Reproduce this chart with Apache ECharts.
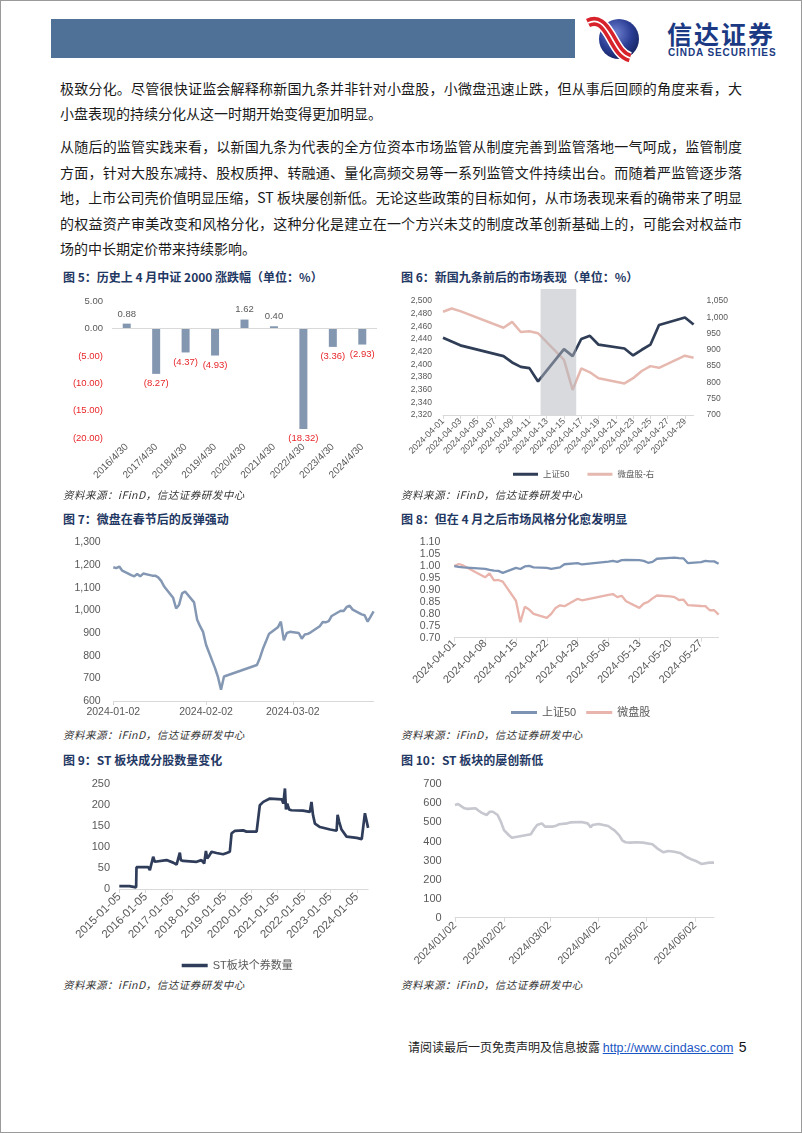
<!DOCTYPE html>
<html><head><meta charset="utf-8">
<script src="https://cdn.jsdelivr.net/npm/echarts@6/dist/echarts.min.js"></script>
<style>
body{margin:0;width:802px;height:1133px;position:relative;background:#fff;overflow:hidden;font-family:"Noto Sans CJK SC",sans-serif;}
.frame{position:absolute;left:0;top:0;width:800px;height:1131px;border:1px solid #9a9a9a;}
.hdr{position:absolute;left:51px;top:19px;width:524px;height:39px;background:#4f7097;}
.p{position:absolute;left:60px;width:682px;font-size:14px;line-height:20px;color:#1a1a1a;}
.j{text-align:justify;text-align-last:justify;}
.t{position:absolute;font-size:12px;font-weight:bold;color:#1f3864;line-height:14px;white-space:nowrap;}
.s{position:absolute;font-size:10.5px;font-style:italic;color:#333;letter-spacing:0.5px;line-height:12px;white-space:nowrap;}
.c{position:absolute;}
</style></head>
<body>
<div class="frame"></div>
<div class="hdr"></div>
<svg style="position:absolute;left:584px;top:15px" width="60" height="48" viewBox="0 0 60 48">
<defs><radialGradient id="g" cx="0.4" cy="0.35" r="0.7"><stop offset="0" stop-color="#7083d2"/><stop offset="0.6" stop-color="#2a3d93"/><stop offset="1" stop-color="#16235f"/></radialGradient></defs>
<circle cx="35" cy="24" r="20" fill="url(#g)"/>
<path d="M4,8 C14,3 20,10 26,20 S36,40 46,43" stroke="#fff" stroke-width="12" fill="none"/>
<path d="M4,8 C14,3 20,10 26,20 S36,40 46,43" stroke="#d8222b" stroke-width="9" fill="none"/>
<path d="M4,8 C14,3 20,10 26,20 S36,40 46,43" stroke="#fff" stroke-width="1.6" fill="none"/>
</svg>
<div style="position:absolute;left:667px;top:20px;font-size:25px;line-height:26px;font-weight:bold;color:#1b3a83;letter-spacing:2px;">信达证券</div>
<div style="position:absolute;left:668px;top:47px;font-size:10px;line-height:11px;font-weight:bold;color:#1b3a83;letter-spacing:0.9px;font-family:Arial,'Liberation Sans',sans-serif;">CINDA SECURITIES</div>

<div class="p j" style="top:78px">极致分化。尽管很快证监会解释称新国九条并非针对小盘股，小微盘迅速止跌，但从事后回顾的角度来看，大</div>
<div class="p" style="top:103px">小盘表现的持续分化从这一时期开始变得更加明显。</div>
<div class="p j" style="top:136px">从随后的监管实践来看，以新国九条为代表的全方位资本市场监管从制度完善到监管落地一气呵成，监管制度</div>
<div class="p j" style="top:161.5px">方面，针对大股东减持、股权质押、转融通、量化高频交易等一系列监管文件持续出台。而随着严监管逐步落</div>
<div class="p j" style="top:187px">地，上市公司壳价值明显压缩，ST 板块屡创新低。无论这些政策的目标如何，从市场表现来看的确带来了明显</div>
<div class="p j" style="top:212.5px">的权益资产审美改变和风格分化，这种分化是建立在一个方兴未艾的制度改革创新基础上的，可能会对权益市</div>
<div class="p" style="top:238px">场的中长期定价带来持续影响。</div>

<div class="t" style="left:63px;top:270px">图 5：历史上 4 月中证 2000 涨跌幅（单位：%）</div>
<div class="t" style="left:401px;top:270px">图 6：新国九条前后的市场表现（单位：%）</div>
<div class="t" style="left:63px;top:512px">图 7：微盘在春节后的反弹强动</div>
<div class="t" style="left:401px;top:512px">图 8：但在 4 月之后市场风格分化愈发明显</div>
<div class="t" style="left:63px;top:753px">图 9：ST 板块成分股数量变化</div>
<div class="t" style="left:401px;top:753px">图 10：ST 板块的屡创新低</div>

<div class="c" id="c5" style="left:60px;top:285px;width:330px;height:205px"></div>
<div class="c" id="c6" style="left:395px;top:285px;width:345px;height:205px"></div>
<div class="c" id="c7" style="left:60px;top:525px;width:330px;height:200px"></div>
<div class="c" id="c8" style="left:395px;top:525px;width:345px;height:200px"></div>
<div class="c" id="c9" style="left:60px;top:765px;width:330px;height:212px"></div>
<div class="c" id="c10" style="left:395px;top:765px;width:345px;height:212px"></div>

<div class="s" style="left:63px;top:489px">资料来源：iFinD，信达证券研发中心</div>
<div class="s" style="left:401px;top:489px">资料来源：iFinD，信达证券研发中心</div>
<div class="s" style="left:63px;top:729px">资料来源：iFinD，信达证券研发中心</div>
<div class="s" style="left:401px;top:729px">资料来源：iFinD，信达证券研发中心</div>
<div class="s" style="left:63px;top:979px">资料来源：iFinD，信达证券研发中心</div>
<div class="s" style="left:401px;top:979px">资料来源：iFinD，信达证券研发中心</div>

<div style="position:absolute;left:408px;top:1039px;font-size:12px;line-height:16px;color:#222;white-space:nowrap;">请阅读最后一页免责声明及信息披露 <span style="font-family:Arial,'Liberation Sans',sans-serif;font-size:12.5px;color:#1a56c4;text-decoration:underline;">http://www.cindasc.com</span>&nbsp; <span style="font-family:Arial,'Liberation Sans',sans-serif;font-size:14px;color:#111;">5</span></div>

<script>
// ---------- DATA ----------
const c5Cats=['2016/4/30','2017/4/30','2018/4/30','2019/4/30','2020/4/30','2021/4/30','2022/4/30','2023/4/30','2024/4/30'];
const c5Vals=[0.88,-8.27,-4.37,-4.93,1.62,0.40,-18.32,-3.36,-2.93];

const c6Dates=['2024-04-01','2024-04-02','2024-04-03','2024-04-08','2024-04-09','2024-04-10','2024-04-11','2024-04-12','2024-04-15','2024-04-16','2024-04-17','2024-04-18','2024-04-19','2024-04-22','2024-04-23','2024-04-24','2024-04-25','2024-04-26','2024-04-29','2024-04-30'];
const c6SZ50=[2442,2436,2430,2413,2403,2396,2394,2373,2424,2413,2440,2445,2431,2425,2414,2423,2431,2462,2474,2463];
const c6Micro=[1017,1027,1019,968,986,955,957,951,869,777,843,831,813,797,813,835,850,845,882,876];
const c6Ticks=['2024-04-01','2024-04-03','2024-04-05','2024-04-07','2024-04-09','2024-04-11','2024-04-13','2024-04-15','2024-04-17','2024-04-19','2024-04-21','2024-04-23','2024-04-25','2024-04-27','2024-04-29'];
const c6Band=['2024-04-12T07:00:00Z','2024-04-16T10:00:00Z'];

const c7Dates=['2024-01-02','2024-01-03','2024-01-04','2024-01-05','2024-01-08','2024-01-09','2024-01-10','2024-01-11','2024-01-12','2024-01-15','2024-01-16','2024-01-17','2024-01-18','2024-01-19','2024-01-22','2024-01-23','2024-01-24','2024-01-25','2024-01-26','2024-01-29','2024-01-30','2024-01-31','2024-02-01','2024-02-02','2024-02-05','2024-02-06','2024-02-07','2024-02-08','2024-02-19','2024-02-20','2024-02-21','2024-02-22','2024-02-23','2024-02-26','2024-02-27','2024-02-28','2024-02-29','2024-03-01','2024-03-04','2024-03-05','2024-03-06','2024-03-07','2024-03-08','2024-03-11','2024-03-12','2024-03-13','2024-03-14','2024-03-15','2024-03-18','2024-03-19','2024-03-20','2024-03-21','2024-03-22','2024-03-25','2024-03-26','2024-03-27','2024-03-28','2024-03-29'];
const c7Vals=[1190,1186,1193,1175,1155,1150,1160,1150,1162,1153,1153,1145,1130,1105,1055,1008,1025,1075,1083,1035,960,930,905,848,745,705,650,708,759,790,830,862,895,925,950,868,900,905,900,875,893,896,903,930,948,947,952,975,998,997,1015,1020,1003,982,978,950,972,995];
const c7Ticks=['2024-01-02','2024-02-02','2024-03-02'];

const c8Dates=['2024-04-01','2024-04-02','2024-04-03','2024-04-08','2024-04-09','2024-04-10','2024-04-11','2024-04-12','2024-04-15','2024-04-16','2024-04-17','2024-04-18','2024-04-19','2024-04-22','2024-04-23','2024-04-24','2024-04-25','2024-04-26','2024-04-29','2024-04-30','2024-05-06','2024-05-07','2024-05-08','2024-05-09','2024-05-10','2024-05-13','2024-05-14','2024-05-15','2024-05-16','2024-05-17','2024-05-20','2024-05-21','2024-05-22','2024-05-23','2024-05-24','2024-05-27','2024-05-28','2024-05-29','2024-05-30','2024-05-31'];
const c8SZ50=[1.000,0.997,0.995,0.989,0.984,0.981,0.980,0.972,0.993,0.988,0.999,1.001,0.995,0.993,0.989,0.992,0.995,1.008,1.013,1.007,1.019,1.022,1.018,1.025,1.026,1.025,1.022,1.014,1.018,1.031,1.035,1.036,1.034,1.033,1.013,1.017,1.022,1.020,1.020,1.010];
const c8Micro=[1.000,1.009,1.003,0.953,0.970,0.940,0.942,0.935,0.855,0.765,0.830,0.818,0.800,0.783,0.800,0.825,0.836,0.832,0.863,0.857,0.880,0.883,0.870,0.876,0.853,0.825,0.843,0.850,0.865,0.877,0.873,0.870,0.858,0.860,0.837,0.833,0.832,0.815,0.815,0.797];
const c8Ticks=['2024-04-01','2024-04-08','2024-04-15','2024-04-22','2024-04-29','2024-05-06','2024-05-13','2024-05-20','2024-05-27'];

const c9Dates=['2015-01-05','2015-05-25','2015-06-20','2015-08-26','2015-08-31','2016-02-10','2016-03-03','2016-03-28','2016-04-18','2016-05-10','2016-06-05','2016-10-20','2017-01-20','2017-03-08','2017-03-30','2017-04-22','2017-05-06','2017-06-08','2017-12-10','2018-02-15','2018-03-25','2018-04-18','2018-05-06','2018-06-01','2018-07-05','2018-09-12','2018-12-12','2019-01-30','2019-02-20','2019-03-15','2019-04-08','2019-05-25','2019-09-15','2019-11-01','2020-03-20','2020-04-10','2020-05-03','2020-06-20','2020-09-20','2021-03-03','2021-03-25','2021-04-16','2021-04-30','2021-05-18','2021-06-12','2021-07-15','2021-12-22','2022-03-27','2022-04-18','2022-05-10','2022-06-05','2022-08-14','2023-01-01','2023-04-01','2023-04-15','2023-05-06','2023-06-08','2023-08-17','2024-01-05','2024-03-14','2024-04-05','2024-04-27','2024-05-20','2024-06-10'];
const c9Vals=[7,7,4,4,52,52,45,47,77,65,69,69,63,58,62,87,69,67,65,69,61,91,73,79,89,86,83,86,83,89,133,139,140,137,137,140,200,208,216,214,204,240,190,204,190,188,187,184,208,176,156,148,142,139,177,161,142,125,122,119,123,181,177,146];
const c9Ticks=['2015-01-05','2016-01-05','2017-01-05','2018-01-05','2019-01-05','2020-01-05','2021-01-05','2022-01-05','2023-01-05','2024-01-05'];

const c10Dates=['2024-01-02','2024-01-04','2024-01-08','2024-01-10','2024-01-15','2024-01-17','2024-01-19','2024-01-22','2024-01-24','2024-01-26','2024-01-29','2024-01-31','2024-02-02','2024-02-05','2024-02-07','2024-02-08','2024-02-19','2024-02-21','2024-02-23','2024-02-26','2024-02-28','2024-03-04','2024-03-06','2024-03-08','2024-03-13','2024-03-15','2024-03-22','2024-03-26','2024-03-28','2024-03-29','2024-04-02','2024-04-03','2024-04-08','2024-04-10','2024-04-12','2024-04-15','2024-04-17','2024-04-18','2024-04-19','2024-04-22','2024-04-26','2024-04-30','2024-05-06','2024-05-09','2024-05-13','2024-05-16','2024-05-20','2024-05-24','2024-05-28','2024-05-31','2024-06-03','2024-06-06','2024-06-11','2024-06-14'];
const c10Vals=[591,596,574,571,574,561,550,539,556,556,539,504,460,434,420,425,438,464,486,495,478,478,483,490,495,500,502,495,474,486,492,490,481,469,458,432,405,402,396,394,396,394,385,364,343,350,346,338,317,305,296,282,289,289];
const c10Ticks=['2024-01-02','2024-02-02','2024-03-02','2024-04-02','2024-05-02','2024-06-02'];

// ---------- HELPERS ----------
const DAY=86400000;
const FF='Arial, "Liberation Sans", "Noto Sans CJK SC", sans-serif';
const GRAY='#595959', AX='#d9d9d9', RED='#e8262a';
function dn(s){const a=s.split(/[-\/]/).map(Number);return Date.UTC(a[0],a[1]-1,a[2])/DAY;}
function ds(v,sep){const d=new Date(Math.round(v)*DAY);const p=n=>String(n).padStart(2,'0');return d.getUTCFullYear()+sep+p(d.getUTCMonth()+1)+sep+p(d.getUTCDate());}
function pairs(dates,vals){return dates.map((d,i)=>[dn(d),vals[i]]);}
function thou(v){return Number(v).toLocaleString('en-US');}
function dateAxis(min,max,ticks,sep,lab){
  const cv=ticks.map(dn);
  return {type:'value',min:dn(min),max:dn(max),splitLine:{show:false},
    axisLine:{onZero:false,lineStyle:{color:AX,width:1}},
    axisTick:{show:true,customValues:cv,length:4,lineStyle:{color:AX}},
    axisLabel:Object.assign({customValues:cv,color:GRAY,fontFamily:FF,formatter:v=>ds(v,sep)},lab)};
}
function yAx(min,max,step,fs,fmt,margin,extra){
  return Object.assign({type:'value',min:min,max:max,interval:step,splitLine:{show:false},axisLine:{show:false},axisTick:{show:false},
    axisLabel:{fontSize:fs,color:GRAY,fontFamily:FF,margin:margin,formatter:fmt}},extra||{});
}
function mk(id){return echarts.init(document.getElementById(id));}
const fmtP=v=>v<0?'('+Math.abs(v).toFixed(2)+')':v.toFixed(2);

// ---------- CHART 5 ----------
mk('c5').setOption({
  animation:false,
  grid:{left:52,right:13,top:16,bottom:51.7},
  xAxis:{type:'category',data:c5Cats,axisLine:{show:false},axisTick:{show:false},
    axisLabel:{interval:0,rotate:45,fontSize:10,color:GRAY,fontFamily:FF,margin:7}},
  yAxis:{type:'value',min:-20,max:5,interval:5,splitLine:{show:false},axisLine:{show:false},axisTick:{show:false},
    axisLabel:{fontSize:9.5,fontFamily:FF,margin:9,formatter:fmtP,color:(v)=>Number(v)<0?RED:GRAY}},
  series:[{type:'bar',barWidth:8,itemStyle:{color:'#8497b0'},
    data:c5Vals.map(v=>({value:v,label:{show:true,position:v>=0?'top':'bottom',distance:5,color:v>=0?GRAY:RED,fontSize:9.5,fontFamily:FF,formatter:p=>fmtP(p.value)}})),
    markLine:{silent:true,symbol:'none',label:{show:false},lineStyle:{color:AX,type:'solid',width:1},data:[{yAxis:0}]}}]
});

// ---------- CHART 6 ----------
const c6Start=c6Dates[0], c6End=c6Dates[c6Dates.length-1];
mk('c6').setOption({
  animation:false,
  grid:{left:48,right:46.4,top:16,bottom:75},
  legend:{data:['上证50','微盘股-右'],left:113,top:180,icon:'rect',itemWidth:25,itemHeight:3,itemGap:18,
    textStyle:{fontSize:8.5,color:GRAY,fontFamily:FF}},
  xAxis:dateAxis(c6Start,c6End,c6Ticks,'-',{rotate:45,fontSize:9,margin:5}),
  yAxis:[yAx(2320,2500,20,8.5,thou,11),yAx(700,1050,50,8.5,thou,13,{position:'right'})],
  series:[
    {name:'上证50',type:'line',yAxisIndex:0,symbol:'none',lineStyle:{width:2.7,color:'#2f3d56'},itemStyle:{color:'#2f3d56'},data:pairs(c6Dates,c6SZ50),z:3},
    {name:'微盘股-右',type:'line',yAxisIndex:1,symbol:'none',lineStyle:{width:2.5,color:'#e6b9b0'},itemStyle:{color:'#e6b9b0'},data:pairs(c6Dates,c6Micro),z:2},
    {name:'band',type:'custom',yAxisIndex:0,z:10,silent:true,clip:false,
      data:[[Date.parse(c6Band[0])/DAY,Date.parse(c6Band[1])/DAY]],
      encode:{x:[0,1]},
      renderItem:(p,api)=>{const a=api.coord([api.value(0),2519]);const b=api.coord([api.value(1),2320]);
        return {type:'rect',shape:{x:a[0],y:a[1],width:b[0]-a[0],height:b[1]-a[1]},style:{fill:'rgba(178,181,189,0.5)'}};}}
  ]
});

// ---------- CHART 7 ----------
mk('c7').setOption({
  animation:false,
  grid:{left:53.3,right:16.4,top:17.3,bottom:24},
  xAxis:dateAxis(c7Dates[0],c7Dates[c7Dates.length-1],c7Ticks,'-',{fontSize:10.5,margin:6}),
  yAxis:yAx(600,1300,100,10.5,thou,12.6),
  series:[{type:'line',symbol:'none',lineStyle:{width:2.5,color:'#8497b3'},data:pairs(c7Dates,c7Vals)}]
});

// ---------- CHART 8 ----------
mk('c8').setOption({
  animation:false,
  grid:{left:59.3,right:21.4,top:17.3,bottom:87.3},
  legend:{left:111,top:177,icon:'rect',itemWidth:26,itemHeight:3,itemGap:10,textStyle:{fontSize:11,color:GRAY,fontFamily:FF}},
  xAxis:dateAxis(c8Dates[0],c8Dates[c8Dates.length-1],c8Ticks,'-',{rotate:45,fontSize:11,margin:4}),
  yAxis:yAx(0.70,1.10,0.05,10.5,v=>Number(v).toFixed(2),14),
  series:[
    {name:'上证50',type:'line',symbol:'none',lineStyle:{width:2.3,color:'#7d93b3'},itemStyle:{color:'#7d93b3'},data:pairs(c8Dates,c8SZ50),z:3},
    {name:'微盘股',type:'line',symbol:'none',lineStyle:{width:2.3,color:'#e8b4ab'},itemStyle:{color:'#e8b4ab'},data:pairs(c8Dates,c8Micro),z:2}
  ]
});

// ---------- CHART 9 ----------
mk('c9').setOption({
  animation:false,
  grid:{left:59.3,right:21.9,top:19.3,bottom:88},
  legend:{left:116.7,top:190,icon:'rect',itemWidth:26,itemHeight:3.5,textStyle:{fontSize:11,color:GRAY,fontFamily:FF}},
  xAxis:dateAxis(c9Dates[0],c9Dates[c9Dates.length-1],c9Ticks,'-',{rotate:45,fontSize:11.5,margin:6}),
  yAxis:yAx(0,250,50,11,v=>v,9.3),
  series:[{name:'ST板块个券数量',type:'line',symbol:'none',lineStyle:{width:2.7,color:'#2f3d5a'},itemStyle:{color:'#2f3d5a'},data:pairs(c9Dates,c9Vals)}]
});

// ---------- CHART 10 ----------
mk('c10').setOption({
  animation:false,
  grid:{left:60,right:26,top:19.3,bottom:59.3},
  xAxis:dateAxis(c10Dates[0],c10Dates[c10Dates.length-1],c10Ticks,'/',{rotate:45,fontSize:11,margin:6}),
  yAxis:yAx(0,700,100,11,v=>v,13.3),
  series:[{type:'line',symbol:'none',lineStyle:{width:2.6,color:'#c6c7cf'},data:pairs(c10Dates,c10Vals)}]
});
</script>
</body></html>
